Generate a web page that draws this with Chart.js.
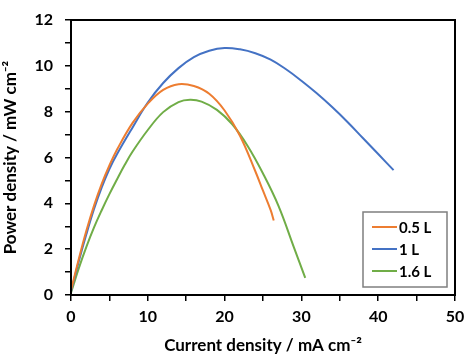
<!DOCTYPE html>
<html>
<head>
<meta charset="utf-8">
<script src="https://cdn.jsdelivr.net/npm/chart.js@4"></script>
<style>
  html, body { margin: 0; padding: 0; background: #fff; }
  #wrap { width: 466px; height: 356px; }
</style>
</head>
<body>
<div id="wrap"><canvas id="chrt" width="466" height="356"></canvas></div>
<script>
// values
let labels = ['0.5 L', '1 L', '1.6 L'];
let colors = ['#ED7D31', '#4472C4', '#70AD47'];

let x05 = [0, 1, 2, 3, 4, 5, 6, 8, 10, 12, 14, 16, 18, 20, 22, 24, 25, 26, 26.4];
let y05 = [0.2, 1.55, 2.8, 3.9, 4.85, 5.65, 6.35, 7.5, 8.35, 8.95, 9.2, 9.12, 8.78, 8.05, 6.95, 5.4, 4.55, 3.7, 3.25];

let x1 = [0, 1, 2, 3, 4, 5, 6, 8, 10, 12, 14, 16, 18, 20, 22, 24, 26, 28, 30, 32, 34, 36, 38, 40, 42];
let y1 = [0.15, 1.45, 2.65, 3.75, 4.7, 5.5, 6.15, 7.3, 8.4, 9.25, 9.9, 10.38, 10.66, 10.78, 10.72, 10.55, 10.27, 9.85, 9.35, 8.8, 8.2, 7.55, 6.85, 6.15, 5.45];

let x16 = [0, 1, 2, 3, 4, 5, 6, 7, 8, 10, 12, 14, 15.5, 17, 19, 21, 23, 25, 27, 29, 30.5];
let y16 = [0.1, 1.15, 2.1, 2.95, 3.7, 4.4, 5.05, 5.68, 6.25, 7.2, 7.98, 8.42, 8.52, 8.44, 8.08, 7.45, 6.5, 5.3, 3.9, 2.1, 0.75];

let xTicks = [0, 10, 20, 30, 40, 50];
let yTicks = [0, 2, 4, 6, 8, 10, 12];

function pts(xs, ys) {
    let out = [];
    for (let i = 0; i < xs.length; i++) out.push({x: xs[i], y: ys[i]});
    return out;
}

let series = [pts(x05, y05), pts(x1, y1), pts(x16, y16)];

let font = "Lato, 'Open Sans', sans-serif";

// frame round the plot + legend box inside it
let framePlugin = {
    id: 'frame',
    afterDraw(chart) {
        let ctx = chart.ctx;
        let a = chart.chartArea;
        ctx.save();
        ctx.strokeStyle = '#000';
        ctx.lineWidth = 2;
        ctx.strokeRect(a.left, a.top, a.right - a.left, a.bottom - a.top);

        // legend
        let bx = 363, by = 212, bw = 84, bh = 75;
        ctx.fillStyle = '#fff';
        ctx.fillRect(bx, by, bw, bh);
        ctx.strokeStyle = '#7f7f7f';
        ctx.lineWidth = 1.5;
        ctx.strokeRect(bx, by, bw, bh);
        ctx.font = 'bold 15px ' + font;
        ctx.textBaseline = 'middle';
        chart.data.datasets.forEach(function(ds, i) {
            let yy = by + 15 + i * 22;
            ctx.strokeStyle = ds.borderColor;
            ctx.lineWidth = 2;
            ctx.beginPath();
            ctx.moveTo(bx + 9, yy);
            ctx.lineTo(bx + 34, yy);
            ctx.stroke();
            ctx.fillStyle = '#000';
            ctx.fillText(ds.label, bx + 36, yy + 1);
        });
        ctx.restore();
    }
};

let chdata = {
    datasets: series.map(function(d, i) {
        return {
            label: labels[i],
            data: d,
            borderColor: colors[i],
            backgroundColor: colors[i],
            borderWidth: 2,
            pointRadius: 0,
            showLine: true,
            tension: 0.4,
            fill: false
        };
    })
};

let chopts = {
    responsive: false,
    animation: false,
    layout: { padding: { top: 20, right: 11, left: 0, bottom: 0 } },
    plugins: {
        legend: { display: false },
        tooltip: { enabled: false }
    },
    scales: {
        x: {
            type: 'linear',
            min: 0,
            max: 50,
            afterFit(s) { s.height = 61; s.paddingLeft = 0; s.paddingRight = 0; },
            ticks: {
                stepSize: 5,
                autoSkip: false,
                maxRotation: 0,
                padding: 6,
                color: '#000',
                font: { family: font, size: 16, weight: 'bold' },
                callback: v => xTicks.includes(v) ? v : ''
            },
            grid: { drawOnChartArea: false, drawTicks: true, tickLength: 6, color: '#000', lineWidth: 1.5 },
            border: { display: true, color: '#000', width: 2 },
            title: {
                display: true,
                text: 'Current density / mA cm\u207B\u00B2',
                color: '#000',
                font: { family: font, size: 17, weight: 'bold' },
                padding: { top: 0, bottom: 0 }
            }
        },
        y: {
            min: 0,
            max: 12,
            afterFit(s) { s.width = 71; s.paddingTop = 0; s.paddingBottom = 0; },
            ticks: {
                stepSize: 1,
                autoSkip: false,
                padding: 12,
                color: '#000',
                font: { family: font, size: 16, weight: 'bold' },
                callback: v => yTicks.includes(v) ? v : ''
            },
            grid: { drawOnChartArea: false, drawTicks: true, tickLength: 6, color: '#000', lineWidth: 1.5 },
            border: { display: true, color: '#000', width: 2 },
            title: {
                display: true,
                text: 'Power density / mW cm\u207B\u00B2',
                color: '#000',
                font: { family: font, size: 17, weight: 'bold' },
                padding: { top: 0, bottom: 0 }
            }
        }
    }
};

let chrt = document.getElementById("chrt").getContext("2d");
let myChart = new Chart(chrt, {
    type: 'scatter',
    data: chdata,
    options: chopts,
    plugins: [framePlugin]
});
</script>
</body>
</html>
